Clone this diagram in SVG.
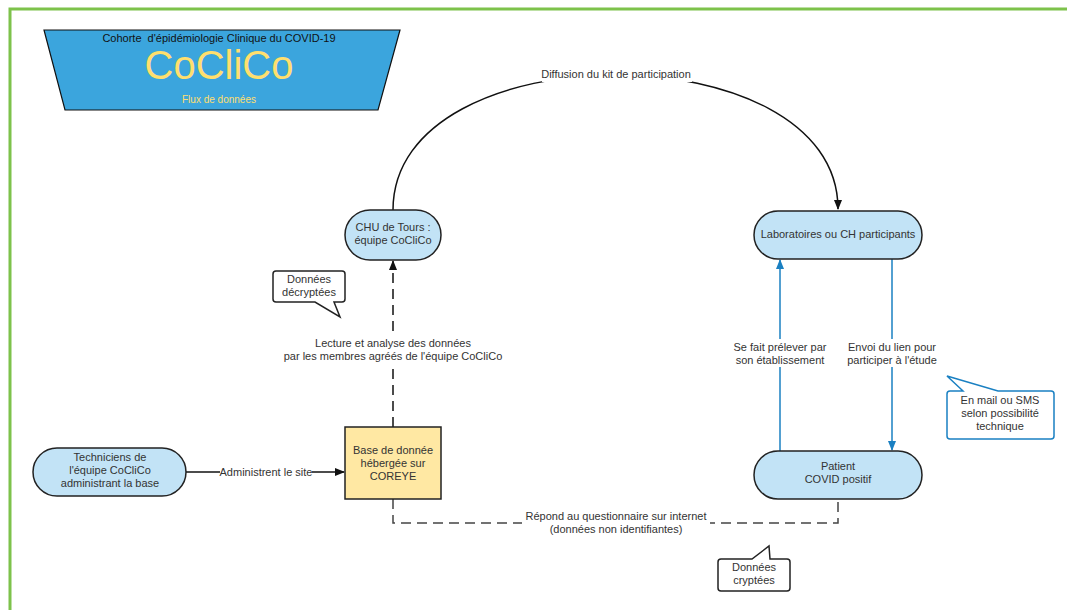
<svg xmlns="http://www.w3.org/2000/svg" width="1067" height="610" viewBox="0 0 1067 610">
<defs>
<style>
text{font-family:"Liberation Sans",Arial,sans-serif;font-size:11px;fill:#333;text-anchor:middle}
.node{fill:#c2e3f6;stroke:#222;stroke-width:1.5}
.conn{fill:none;stroke:#111;stroke-width:1.5}
.dash{stroke-dasharray:10,6}
.blue{fill:none;stroke:#1a80c2;stroke-width:1.5}
.lbl{fill:#fff}
.call{fill:#fff;stroke:#222;stroke-width:1.5}
</style>
<marker id="ab" markerWidth="10" markerHeight="10" refX="9" refY="5" orient="auto" markerUnits="userSpaceOnUse">
<path d="M0,1 L10,5 L0,9 Z" fill="#111"/>
</marker>
<marker id="abl" markerWidth="10" markerHeight="10" refX="9" refY="5" orient="auto" markerUnits="userSpaceOnUse">
<path d="M0,1 L10,5 L0,9 Z" fill="#1a80c2"/>
</marker>
</defs>
<rect width="1067" height="610" fill="#fff"/>
<path d="M10,610 V9 H1067" fill="none" stroke="#7dc24b" stroke-width="3"/>

<g id="header">
<polygon points="44,30 400,30 378,110 65,110" fill="#3ba5dd" stroke="#111" stroke-width="1.2"/>
<text x="219" y="42" style="fill:#111;font-size:11px">Cohorte &#160;d'épidémiologie Clinique du COVID-19</text>
<text x="219" y="79" style="fill:#ffdf6e;font-size:40px">CoCliCo</text>
<text x="219" y="103" style="fill:#ffdf6e;font-size:10px">Flux de données</text>
</g>

<g id="connectors">
<path class="conn" d="M393,210 C393,30 838,30 838,209" marker-end="url(#ab)"/>
<rect class="lbl" x="542" y="67" width="150" height="15"/>
<text x="616" y="78">Diffusion du kit de participation</text>

<path class="conn dash" d="M393,427 V261" marker-end="url(#ab)"/>
<rect class="lbl" x="284" y="336" width="218" height="28"/>
<text x="393" y="347">Lecture et analyse des données</text>
<text x="393" y="360">par les membres agréés de l'équipe CoCliCo</text>

<path class="conn" d="M186,472 H344" marker-end="url(#ab)"/>
<rect class="lbl" x="220" y="465" width="92" height="14"/>
<text x="266" y="476">Administrent le site</text>

<path class="blue" d="M780,451 V260" marker-end="url(#abl)"/>
<rect class="lbl" x="730" y="339" width="100" height="28"/>
<text x="780" y="351">Se fait prélever par</text>
<text x="780" y="364">son établissement</text>

<path class="blue" d="M892,259 V450" marker-end="url(#abl)"/>
<rect class="lbl" x="845" y="339" width="94" height="28"/>
<text x="892" y="351">Envoi du lien pour</text>
<text x="892" y="364">participer à l'étude</text>

<path d="M393,499 V523 H838 V499" fill="none" stroke="#444" stroke-width="1.5" stroke-dasharray="10,6"/>
<rect class="lbl" x="522" y="509" width="188" height="28"/>
<text x="616" y="520">Répond au questionnaire sur internet</text>
<text x="616" y="533">(données non identifiantes)</text>
</g>

<g id="chu">
<rect class="node" x="345" y="210" width="96" height="50" rx="25"/>
<text x="393" y="231">CHU de Tours :</text>
<text x="393" y="244">équipe CoCliCo</text>
</g>

<g id="labo">
<rect class="node" x="754" y="211" width="168" height="48" rx="24"/>
<text x="838" y="238">Laboratoires ou CH participants</text>
</g>

<g id="patient">
<rect class="node" x="754" y="451" width="168" height="48" rx="24"/>
<text x="838" y="470">Patient</text>
<text x="838" y="483">COVID positif</text>
</g>

<g id="techniciens">
<rect class="node" x="33" y="448" width="153" height="48" rx="24"/>
<text x="110" y="461">Techniciens de</text>
<text x="110" y="474">l'équipe CoCliCo</text>
<text x="110" y="487">administrant la base</text>
</g>

<g id="base">
<rect x="345" y="427" width="96" height="72" fill="#ffe8a3" stroke="#222" stroke-width="1.5"/>
<text x="393" y="454">Base de donnée</text>
<text x="393" y="467">hébergée sur</text>
<text x="393" y="480">COREYE</text>
</g>

<g id="callout-decryptees">
<path class="call" d="M276,271 H342 Q345,271 345,274 V299 Q345,302 342,302 H334 L340,317 L315,302 H276 Q273,302 273,299 V274 Q273,271 276,271 Z"/>
<text x="309" y="283">Données</text>
<text x="309" y="296">décryptées</text>
</g>

<g id="callout-mail">
<path d="M950,391 H963 L947,376 L998,391 H1051 Q1054,391 1054,394 V436 Q1054,439 1051,439 H950 Q947,439 947,436 V394 Q947,391 950,391 Z" fill="#fff" stroke="#1a80c2" stroke-width="1.5"/>
<text x="1000" y="404">En mail ou SMS</text>
<text x="1000" y="417">selon possibilité</text>
<text x="1000" y="430">technique</text>
</g>

<g id="callout-cryptees">
<path class="call" d="M721,559 H752 L769,546 L770,559 H787 Q790,559 790,562 V588 Q790,591 787,591 H721 Q718,591 718,588 V562 Q718,559 721,559 Z"/>
<text x="754" y="571">Données</text>
<text x="754" y="584">cryptées</text>
</g>
</svg>
